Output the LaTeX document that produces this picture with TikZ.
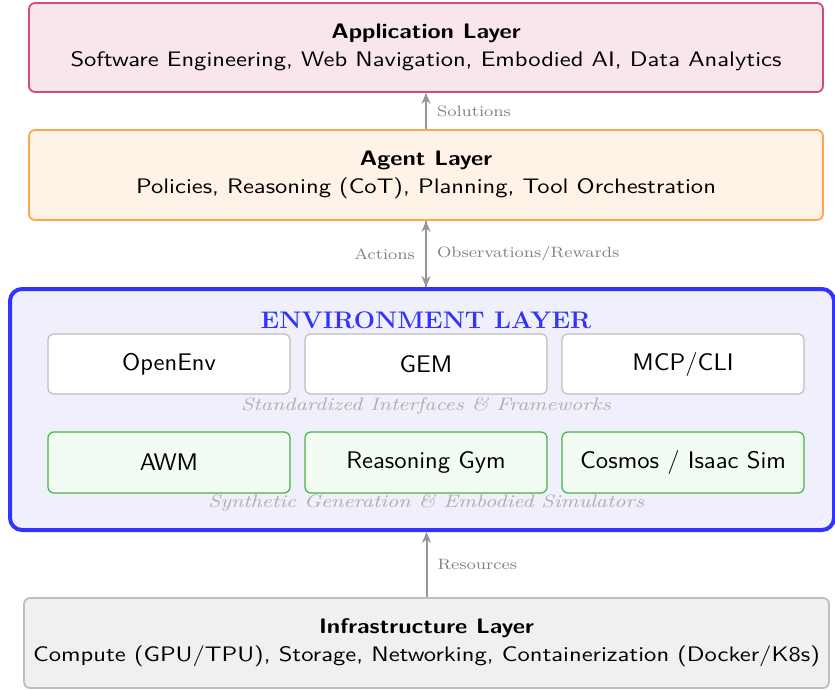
\documentclass[tikz,border=0pt]{standalone}
\usepackage{graphicx}
\usetikzlibrary{arrows.meta}
\definecolor{appfill}{RGB}{249,230,236}
\definecolor{appdraw}{RGB}{210,77,121}
\definecolor{agfill}{RGB}{255,242,230}
\definecolor{agdraw}{RGB}{255,166,77}
\definecolor{envfill}{RGB}{240,240,252}
\definecolor{envdraw}{RGB}{51,51,255}
\definecolor{ifdraw}{RGB}{190,190,190}
\definecolor{simfill}{RGB}{242,252,242}
\definecolor{simdraw}{RGB}{68,180,68}
\definecolor{infill}{RGB}{240,240,240}
\definecolor{conn}{RGB}{150,150,150}
\definecolor{lbl}{RGB}{130,130,130}
\definecolor{ilbl}{RGB}{175,175,175}
\newcommand{\stt}[1]{\scalebox{1.135}[1]{#1}}
\newcommand{\stb}[1]{\scalebox{1.17}[1]{#1}}
\newcommand{\sti}[1]{\scalebox{1.05}[1]{#1}}
\newcommand{\stl}[1]{\scalebox{1.16}[1]{#1}}
\newcommand{\stit}[1]{\scalebox{1.19}[1]{#1}}
\tikzset{
  layerbox/.style={rectangle, rounded corners=3pt, line width=0.9pt, align=center,
    font=\sffamily\fontsize{10.5}{14}\selectfont, inner sep=0pt},
  innerbox/.style={rectangle, rounded corners=3pt, line width=0.6pt, minimum width=121pt,
    minimum height=30pt, font=\sffamily\fontsize{12}{14}\selectfont, inner sep=0pt},
  conn/.style={draw=conn, line width=1pt, -{Stealth[length=5.5pt,width=4.5pt]}},
  lab/.style={font=\fontsize{7.5}{8}\selectfont, text=lbl, inner sep=0pt},
  ilab/.style={font=\itshape\fontsize{9}{10}\selectfont, text=ilbl, inner sep=0pt}
}
\begin{document}
\begin{tikzpicture}[x=0.5pt,y=-0.5pt]
\useasboundingbox (0,0) rectangle (835,690);
\node[layerbox, fill=appfill, draw=appdraw, minimum width=397pt, minimum height=44.5pt] (app) at (426,47.5)
  {\stt{\textbf{Application Layer}}\\\stb{Software Engineering, Web Navigation, Embodied AI, Data Analytics}};
\node[layerbox, fill=agfill, draw=agdraw, minimum width=397pt, minimum height=45pt] (agent) at (426,175)
  {\stt{\textbf{Agent Layer}}\\\stb{Policies, Reasoning (CoT), Planning, Tool Orchestration}};
\node[rectangle, rounded corners=6pt, line width=2pt, fill=envfill, draw=envdraw, minimum width=412pt, minimum height=120.5pt, inner sep=0pt] (env) at (422,409.5) {};
\node[font=\bfseries\fontsize{12}{14}\selectfont, text=envdraw, inner sep=0pt] (envtitle) at (426,320) {\sti{ENVIRONMENT LAYER}};
\node[innerbox, fill=white, draw=ifdraw] (openenv) at (169,364) {\sti{OpenEnv}};
\node[innerbox, fill=white, draw=ifdraw] (gem) at (426,364) {\sti{GEM}};
\node[innerbox, fill=white, draw=ifdraw] (mcp) at (683,364) {\sti{MCP/CLI}};
\node[ilab] (iflab) at (426,406) {\stit{Standardized Interfaces \& Frameworks}};
\node[innerbox, fill=simfill, draw=simdraw, minimum height=30.5pt] (awm) at (169,462.5) {\sti{AWM}};
\node[innerbox, fill=simfill, draw=simdraw, minimum height=30.5pt] (rgym) at (426,462.5) {\sti{Reasoning Gym}};
\node[innerbox, fill=simfill, draw=simdraw, minimum height=30.5pt] (cosmos) at (683,462.5) {\sti{Cosmos / Isaac Sim}};
\node[ilab] (simlab) at (426,503) {\stit{Synthetic Generation \& Embodied Simulators}};
\node[layerbox, fill=infill, draw=ifdraw, minimum width=402.5pt, minimum height=45pt] (infra) at (426.5,643)
  {\stt{\textbf{Infrastructure Layer}}\\\stb{Compute (GPU/TPU), Storage, Networking, Containerization (Docker/K8s)}};
\draw[conn] (agent.north) -- (app.south) node[lab, pos=0.5, anchor=west, xshift=5pt] {\stl{Solutions}};
\draw[conn] (agent.south |- env.north) -- (agent.south) node[lab, pos=0.5, anchor=east, xshift=-5pt] {\stl{Actions}};
\draw[conn] (agent.south) -- (agent.south |- env.north) node[lab, pos=0.5, anchor=west, xshift=5pt] {\stl{Observations/Rewards}};
\draw[conn] (infra.north) -- (infra.north |- env.south) node[lab, pos=0.5, anchor=west, xshift=5pt] {\stl{Resources}};
\end{tikzpicture}
\end{document}
